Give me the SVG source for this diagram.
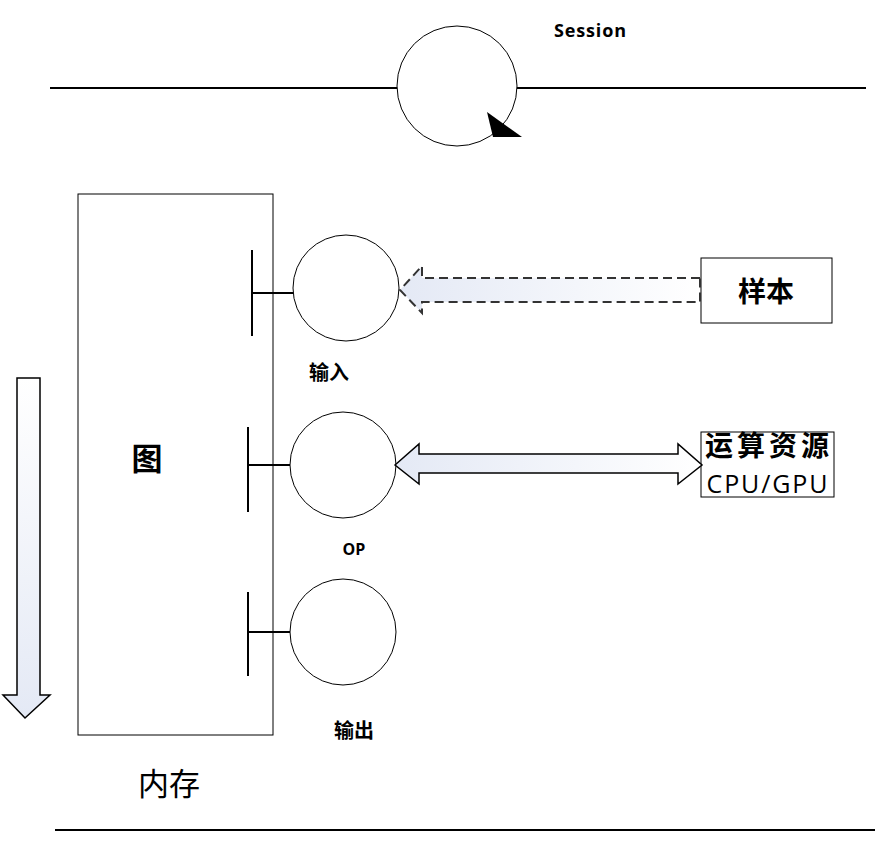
<svg xmlns="http://www.w3.org/2000/svg" width="878" height="853" viewBox="0 0 878 853">
<defs>
<linearGradient id="gh" x1="0" y1="0" x2="1" y2="0">
<stop offset="0" stop-color="#e4e9f5"/><stop offset="1" stop-color="#ffffff"/>
</linearGradient>
<linearGradient id="gv" x1="0" y1="0" x2="0" y2="1">
<stop offset="0" stop-color="#ffffff"/><stop offset="1" stop-color="#e4e9f5"/>
</linearGradient>
<style>
.ln{stroke:#000;stroke-width:2;fill:none}
.c{fill:#fff;stroke:#000;stroke-width:1}
.bx{fill:#fff;stroke:#000;stroke-width:1}
.cn{font-family:"Noto Sans CJK SC",sans-serif;font-weight:bold;fill:#000}
.lat{font-family:"Open Sans","Liberation Sans",sans-serif;fill:#000}
</style>
</defs>
<g id="session">
<line class="ln" x1="50" y1="88" x2="398" y2="88"/>
<line class="ln" x1="517" y1="88" x2="866" y2="88"/>
<circle class="c" cx="457" cy="86" r="60"/>
<polygon points="487,112 522,137 493,137" fill="#000"/>
<text class="lat" x="590" y="37" font-size="18" font-weight="bold" text-anchor="middle" textLength="72">Session</text>
</g>
<g id="graph">
<rect class="bx" x="78" y="194" width="195" height="541"/>
<text class="cn" x="147" y="470" font-size="31" text-anchor="middle">图</text>
</g>
<g id="memory">
<text x="169" y="795" font-size="31" text-anchor="middle" font-family="Noto Sans CJK SC,sans-serif">内存</text>
</g>
<g id="input">
<line class="ln" x1="252" y1="250" x2="252" y2="336"/>
<line class="ln" x1="252" y1="293" x2="293" y2="293"/>
<circle class="c" cx="346" cy="288" r="53"/>
<text class="cn" x="329" y="380" font-size="20" text-anchor="middle">输入</text>
</g>
<g id="op">
<line class="ln" x1="248" y1="427" x2="248" y2="512"/>
<line class="ln" x1="248" y1="465" x2="290" y2="465"/>
<circle class="c" cx="343" cy="465" r="53"/>
<text class="lat" x="354" y="555" font-size="16" font-weight="bold" text-anchor="middle">OP</text>
</g>
<g id="output">
<line class="ln" x1="248" y1="592" x2="248" y2="676"/>
<line class="ln" x1="248" y1="632" x2="290" y2="632"/>
<circle class="c" cx="343" cy="632" r="53"/>
<text class="cn" x="354" y="738" font-size="20" text-anchor="middle">输出</text>
</g>
<g id="sample">
<rect class="bx" x="701" y="258" width="131" height="65"/>
<text class="cn" x="766" y="302" font-size="28" text-anchor="middle">样本</text>
</g>
<g id="compute">
<rect class="bx" x="701" y="432" width="133" height="65"/>
<text class="cn" x="767" y="456" font-size="28" text-anchor="middle" textLength="124">运算资源</text>
<text x="767" y="493" font-size="25" text-anchor="middle" textLength="121" font-family="Open Sans,Liberation Sans,sans-serif">CPU/GPU</text>
</g>
<g id="connectors">
<polygon points="700,278 422,278 422,266 400,290 422,313 422,302 700,302" fill="url(#gh)" stroke="#333" stroke-width="2" stroke-dasharray="9,5"/>
<polygon points="395,465 419,444 419,454 678,454 678,444 702,465 678,484 678,473 419,473 419,484" fill="url(#gh)" stroke="#000" stroke-width="1.5"/>
<polygon points="17,378 40,378 40,695 50,695 25,718 3,695 17,695" fill="url(#gv)" stroke="#000" stroke-width="1.5"/>
</g>
<line class="ln" x1="55" y1="830" x2="875" y2="830"/>
</svg>
